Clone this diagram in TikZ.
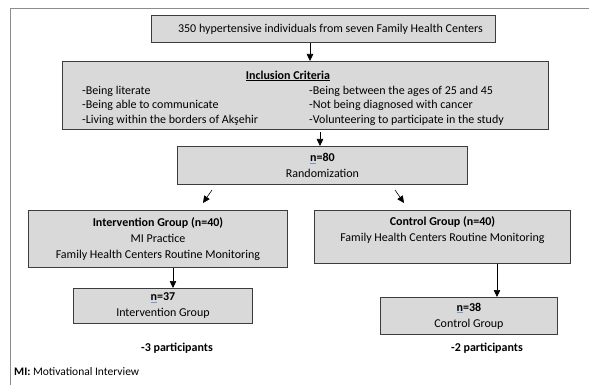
\documentclass[tikz,border=0pt]{standalone}
\usepackage{fontspec}
\setmainfont{Carlito}
\usepackage{xcolor}
\definecolor{boxgray}{RGB}{217,217,217}
\definecolor{edgegray}{RGB}{60,60,60}
\definecolor{framegray}{RGB}{140,140,140}
\definecolor{spellblue}{RGB}{120,150,210}
\usetikzlibrary{
  calc,
  positioning,
  arrows.meta
}
\newcommand{\nmark}{\makebox[0pt][l]{\textcolor{spellblue}{\rule[-2.2pt]{0.52em}{0.9pt}}}n}

\begin{document}
\begin{tikzpicture}[
  x=1pt, y=-1pt,
  stage/.style={
    draw=edgegray,
    fill=boxgray,
    line width=0.9pt,
    anchor=north west,
    inner sep=0pt,
    align=center,
    font=\fontsize{12}{16}\selectfont
  },
  note/.style={
    inner sep=0pt,
    align=center,
    font=\fontsize{12}{14.5}\selectfont
  },
  flow/.style={
    -{Triangle[length=7pt,width=6.5pt]},
    line width=0.6pt,
    black
  }
]

  \useasboundingbox (0,0) rectangle (589,385);
  \draw[framegray,line width=1.4pt] (10.5,385) -- (10.5,8.5) -- (589,8.5);


  \node[stage,minimum width=344pt,minimum height=27pt] (src) at (151,15)
  {\hspace*{14pt}350 hypertensive individuals from seven Family Health Centers};

  \node[stage,minimum width=486pt,minimum height=68pt] (incl) at (62,61) {};
  \node[note] (inclhead) at (288,76) {\textbf{\underline{Inclusion Criteria}}};
  \node[note,align=left,anchor=north west] (critL) at (82,85.5)
  {-Being literate\\-Being able to communicate\\-Living within the borders of Akşehir};
  \node[note,align=left,anchor=north west] (critR) at (309,85.5)
  {-Being between the ages of 25 and 45\\-Not being diagnosed with cancer\\-Volunteering to participate in the study};

  \node[stage,minimum width=290pt,minimum height=38pt] (rand) at (177,146)
  {\textbf{\nmark=80}\\Randomization};


  \node[stage,minimum width=259pt,minimum height=57pt] (interv) at (28,210)
  {\textbf{Intervention Group (n=40)}\\MI Practice\\Family Health Centers Routine Monitoring};

  \node[stage,minimum width=256pt,minimum height=53pt] (ctrl) at (314,210)
  {\textbf{Control Group (n=40)}\\Family Health Centers Routine Monitoring\\\mbox{}};

  \node[stage,minimum width=179pt,minimum height=35pt] (intervEnd) at (73,288)
  {\textbf{\nmark=37}\\Intervention Group};

  \node[stage,minimum width=177pt,minimum height=37pt] (ctrlEnd) at (380,297)
  {\textbf{\nmark=38}\\Control Group};

  \node[note] (lossI) at (177,348) {\textbf{-3 participants}};
  \node[note] (lossC) at (487,348) {\textbf{-2 participants}};

  \node[note,anchor=west,font=\fontsize{11.5}{12}\selectfont] (mikey) at (14,372)
  {\textbf{MI:} Motivational Interview};


  \coordinate (axSrc) at (310,0);
  \coordinate (axIncl) at (320,0);
  \coordinate (axInterv) at (173,0);
  \coordinate (axCtrl) at (497,0);

  \coordinate (splitL) at (212,190);
  \coordinate (tipL) at (203,203);
  \coordinate (splitR) at (395,190);
  \coordinate (tipR) at (404,203);

  \draw[flow] (src.south -| axSrc) -- (incl.north -| axSrc);
  \draw[flow] ($(incl.south -| axIncl)+(0,2)$) -- (rand.north -| axIncl);
  \draw[flow] (splitL) -- (tipL);
  \draw[flow] (splitR) -- (tipR);
  \draw[flow] (interv.south -| axInterv) -- (intervEnd.north -| axInterv);
  \draw[flow] (ctrl.south -| axCtrl) -- (ctrlEnd.north -| axCtrl);

\end{tikzpicture}
\end{document}
